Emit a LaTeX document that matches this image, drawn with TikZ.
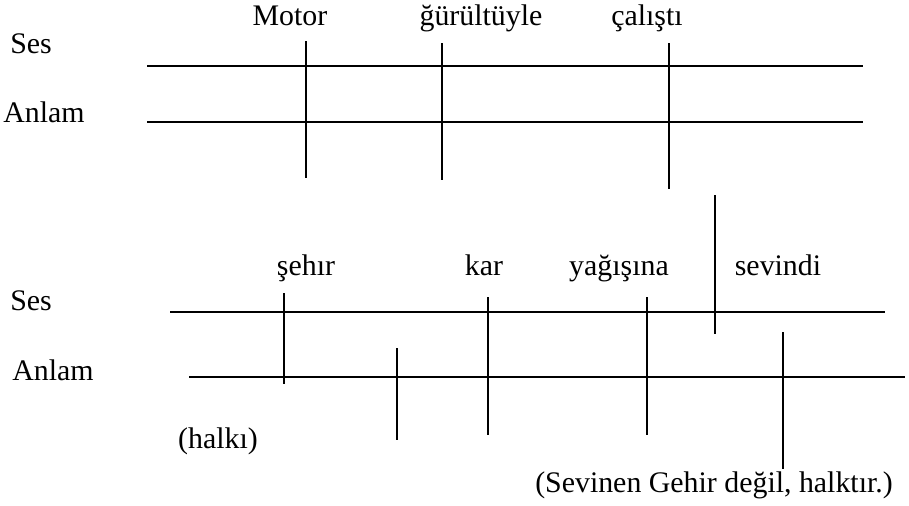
\documentclass[tikz,border=0pt]{standalone}
\usepackage{fontspec}
\setmainfont{Liberation Serif}
\begin{document}
\begin{tikzpicture}[x=0.02cm,y=-0.02cm,
		yatay/.style={line width=1pt},
		ince/.style={line width=.6pt},
		dikey/.style={line width=1.1pt},
		etiket/.style={inner sep=0pt,anchor=base,font=\fontsize{17}{20}\selectfont},
		solet/.style={etiket,anchor=base west}]
		\useasboundingbox (0,0) rectangle (909,505);
		% ust cumle
		\node[solet] (ses1) at (10,53) {Ses};
		\node[solet] (anlam1) at (3,122) {Anlam};
		\draw[yatay] (147,66) -- (863,66);
		\draw[yatay] (147,122) -- (863,122);
		\node[etiket] (motor) at (290,25) {Motor};
		\node[etiket] (gurultu) at (481,25) {ğürültüyle};
		\node[etiket] (calisti) at (647,25) {çalıştı};
		\draw[dikey] (306,41) -- (306,178);
		\draw[dikey] (442,43) -- (442,180);
		\draw[dikey] (669,43) -- (669,189);
		% alt cumle
		\node[solet] (ses2) at (10,310) {Ses};
		\node[solet] (anlam2) at (12,380) {Anlam};
		\draw[ince] (170,312) -- (885,312);
		\draw[yatay] (189,377) -- (905,377);
		\node[etiket] (sehir) at (306,275) {şehır};
		\node[etiket] (kar) at (484,275) {kar};
		\node[etiket] (yagis) at (619,275) {yağışına};
		\node[etiket] (sevindi) at (778,275) {sevindi};
		\draw[dikey] (284,293) -- (284,384);
		\draw[dikey] (397,348) -- (397,440);
		\draw[dikey] (488,297) -- (488,435);
		\draw[dikey] (647,297) -- (647,435);
		\draw[dikey] (715,195) -- (715,334);
		\draw[dikey] (783,332) -- (783,469);
		\node[etiket] (halki) at (218,448) {(halkı)};
		\node[etiket] (aciklama) at (714,492) {(Sevinen Gehir değil, halktır.)};
	\end{tikzpicture}
\end{document}
